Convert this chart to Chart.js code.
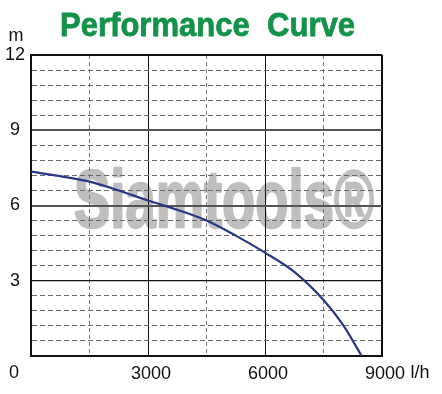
<!DOCTYPE html>
<html>
<head>
<meta charset="utf-8">
<script src="https://cdn.jsdelivr.net/npm/chart.js@4"></script>
<style>
html,body{margin:0;padding:0;background:#fff;}
#wrap{width:442px;height:394px;}
</style>
</head>
<body>
<div id="wrap"><canvas id="c" width="442" height="394"></canvas></div>
<script>
// ---- data ----
const flowLh = [0, 750, 1500, 2250, 3000, 3750, 4500, 5250, 6000, 6750, 7500, 8000, 8480];
const headM  = [7.35, 7.17, 6.95, 6.6, 6.2, 5.83, 5.4, 4.8, 4.12, 3.35, 2.23, 1.24, 0];
const yMajorTicks = [0, 3, 6, 9, 12];
const yMinorStep = 0.6;
const xTicksShown = [3000, 6000, 9000];
const titleText = 'Performance  Curve';
const yUnit = 'm';
const xUnit = 'l/h';
const watermark = 'Siamtools\u00AE';

const points = flowLh.map((x, i) => ({x: x, y: headM[i]}));
const near = (a, b) => Math.abs(a - b) < 1e-6;
const isMajorY = v => yMajorTicks.some(t => near(t, v));

function squeezedText(ctx, text, x, baseline, width) {
  const w = ctx.measureText(text).width;
  ctx.save();
  ctx.translate(x, baseline);
  ctx.scale(width / w, 1);
  ctx.fillText(text, 0, 0);
  if (ctx.lineWidth > 0 && ctx.__stroke) ctx.strokeText(text, 0, 0);
  ctx.restore();
}

const decor = {
  id: 'decor',
  beforeDraw(chart) {
    const ctx = chart.ctx;
    ctx.save();
    ctx.fillStyle = '#bfbfbf';
    ctx.strokeStyle = '#bfbfbf';
    ctx.lineWidth = 2.5;
    ctx.lineJoin = 'round';
    ctx.font = 'bold 82px "Liberation Sans", Arial, sans-serif';
    ctx.textBaseline = 'alphabetic';
    ctx.textAlign = 'left';
    const w = ctx.measureText(watermark).width;
    ctx.translate(74, 227);
    ctx.scale(300 / w, 1);
    ctx.fillText(watermark, 0, 0);
    ctx.strokeText(watermark, 0, 0);
    ctx.restore();

    // title
    ctx.save();
    ctx.fillStyle = '#13934a';
    ctx.strokeStyle = '#13934a';
    ctx.lineWidth = 0.8;
    ctx.font = 'bold 34px "Liberation Sans", Arial, sans-serif';
    ctx.textBaseline = 'alphabetic';
    ctx.textAlign = 'left';
    const tw = ctx.measureText(titleText).width;
    ctx.translate(60, 36);
    ctx.scale(295 / tw, 1);
    ctx.fillText(titleText, 0, 0);
    ctx.strokeText(titleText, 0, 0);
    ctx.restore();
  },
  afterDraw(chart) {
    const ctx = chart.ctx;
    const ys = chart.scales.y;
    ctx.save();
    ctx.fillStyle = '#111';
    ctx.font = '18px "Liberation Sans", Arial, sans-serif';
    ctx.textAlign = 'center';
    ctx.textBaseline = 'middle';
    ctx.fillText(yUnit, 16, 36);
    ctx.fillText('0', 14, ys.getPixelForValue(0) + 17);
    ctx.fillText(xUnit, 420, ys.getPixelForValue(0) + 17);
    ctx.restore();
  }
};

new Chart(document.getElementById('c'), {
  type: 'scatter',
  data: {
    datasets: [{
      data: points,
      showLine: true,
      borderColor: '#2a3784',
      borderWidth: 2.2,
      pointRadius: 0,
      cubicInterpolationMode: 'monotone',
      fill: false
    }]
  },
  options: {
    responsive: false,
    animation: false,
    layout: {padding: {left: 0, right: 60, top: 55, bottom: 0}},
    plugins: {
      legend: {display: false},
      tooltip: {enabled: false},
      title: {display: false}
    },
    scales: {
      x: {
        type: 'linear',
        min: 0, max: 9000,
        afterFit(s) { s.height = 38; },
        afterBuildTicks(s) {
          const t = [];
          for (let v = 0; v <= 9000; v += 1500) t.push({value: v});
          s.ticks = t;
        },
        ticks: {
          color: '#111',
          font: {family: '"Liberation Sans", Arial, sans-serif', size: 18},
          padding: 7,
          maxRotation: 0,
          autoSkip: false,
          labelOffset: 3,
          callback: v => xTicksShown.includes(v) ? String(v) : ''
        },
        grid: {
          drawTicks: false,
          color: ctx => {
            const v = ctx.tick.value;
            if (v % 3000 === 0) return '#111';
            return '#7a7a7a';
          },
          lineWidth: ctx => {
            const v = ctx.tick.value;
            if (v === 9000 || v === 0) return 2;
            return 1;
          }
        },
        border: {
          display: true, color: '#111', width: 2,
          dash: ctx => (ctx.tick && ctx.tick.value % 3000 !== 0) ? [4, 3] : []
        }
      },
      y: {
        type: 'linear',
        min: 0, max: 12,
        afterFit(s) { s.width = 31; },
        afterBuildTicks(s) {
          const t = [];
          for (let k = 0; k <= 20; k++) t.push({value: Math.round(k * yMinorStep * 10) / 10});
          s.ticks = t;
        },
        ticks: {
          color: '#111',
          font: {family: '"Liberation Sans", Arial, sans-serif', size: 18},
          padding: 6,
          crossAlign: 'center',
          autoSkip: false,
          callback: v => (isMajorY(v) && !near(v, 0)) ? String(v) : ''
        },
        grid: {
          drawTicks: false,
          color: ctx => {
            const v = ctx.tick.value;
            if (near(v, 9) || near(v, 6)) return '#555';
            if (isMajorY(v)) return '#111';
            return '#6a6a6a';
          },
          lineWidth: ctx => {
            const v = ctx.tick.value;
            if (near(v, 12)) return 2;
            if (near(v, 9) || near(v, 6)) return 2;
            if (near(v, 3)) return 1.2;
            return 1;
          }
        },
        border: {
          display: true, color: '#111', width: 2,
          dash: ctx => (ctx.tick && !isMajorY(ctx.tick.value)) ? [5, 3] : []
        }
      }
    }
  },
  plugins: [decor]
});
</script>
</body>
</html>
